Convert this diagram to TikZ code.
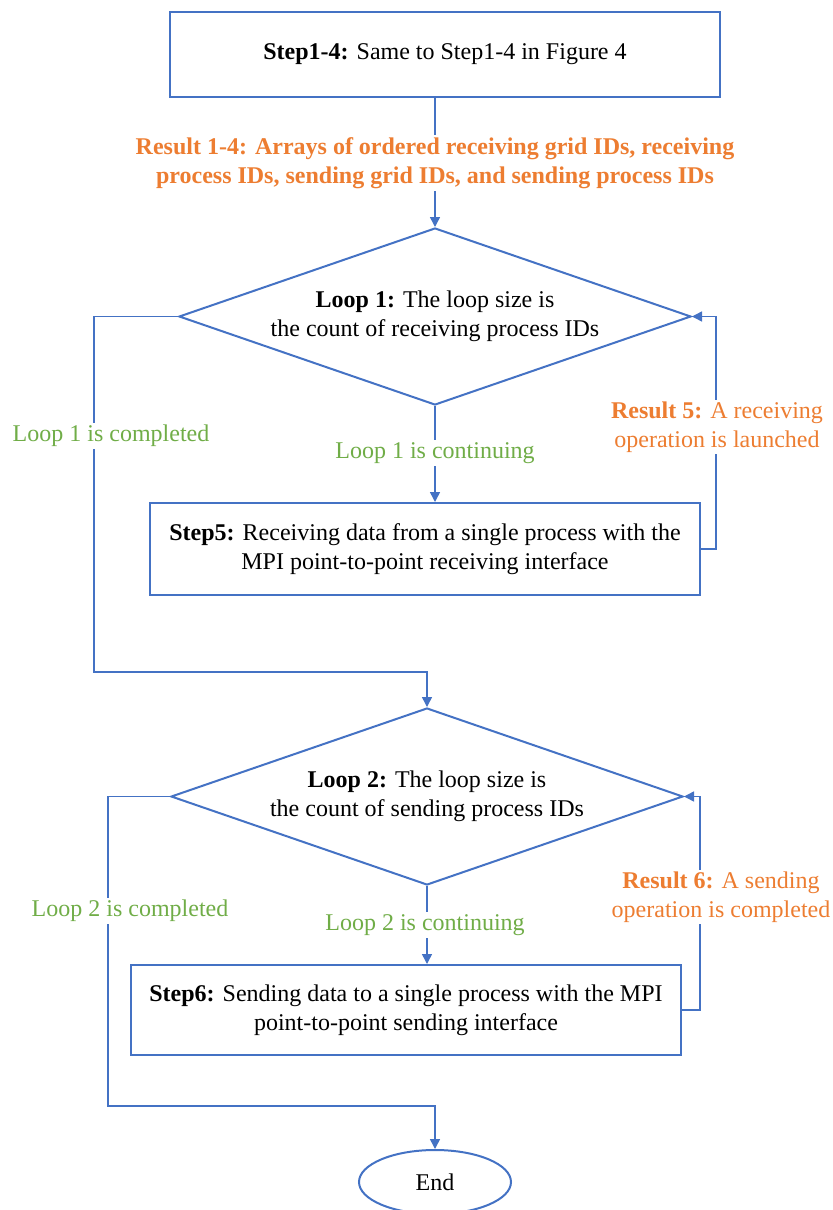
\documentclass[tikz,border=0pt]{standalone}
\usepackage{fontspec}
\setmainfont{Liberation Serif}
\usetikzlibrary{shapes.geometric,arrows.meta}

\definecolor{flowblue}{HTML}{4472C4}
\definecolor{resorange}{HTML}{ED7D31}
\definecolor{loopgreen}{HTML}{70AD47}

\tikzset{
	txt/.style={font=\fontsize{12}{14.5}\selectfont, align=center},
	stepbox/.style={txt, draw=flowblue, line width=1pt, minimum width=275pt, inner sep=0pt},
	loopdiamond/.style={txt, draw=flowblue, line width=1pt, diamond, aspect=2.89, minimum width=256pt, minimum height=88.5pt, inner sep=0pt},
	endoval/.style={txt, draw=flowblue, line width=1pt, ellipse, minimum width=76pt, minimum height=32pt, inner sep=0pt},
	flow/.style={draw=flowblue, line width=0.75pt},
	flowarrow/.style={flow, -{Triangle[length=5pt,width=5pt]}},
	greenlabel/.style={txt, text=loopgreen, fill=white, inner sep=1pt},
	orangelabel/.style={txt, text=resorange, fill=white, inner sep=1pt},
}

\begin{document}
\begin{tikzpicture}[x=0.5pt, y=-0.5pt]
	\useasboundingbox (0,0) rectangle (832,1210);

	% boxes and decisions
	\node[stepbox, minimum height=42.5pt] (stepA) at (445,54.5) {\textbf{Step1-4:} Same to Step1-4 in Figure 4};
	\node[loopdiamond] (loopA) at (435,316.5) {\textbf{Loop 1:} The loop size is\\the count of receiving process IDs};
	\node[stepbox, minimum height=46pt] (stepE) at (425,549) {\textbf{Step5:} Receiving data from a single process with the\\MPI point-to-point receiving interface};
	\node[loopdiamond] (loopB) at (427,796.5) {\textbf{Loop 2:} The loop size is\\the count of sending process IDs};
	\node[stepbox, minimum height=45pt] (stepF) at (406,1010) {\textbf{Step6:} Sending data to a single process with the MPI\\point-to-point sending interface};
	\node[endoval] (finish) at (435,1182) {End};

	% bends
	\coordinate (backA) at (716,316.5);
	\coordinate (exitA) at (94,672);
	\coordinate (backB) at (700,796.5);
	\coordinate (exitB) at (108,1106);

	% connectors
	\draw[flowarrow] (loopA.north |- stepA.south) -- (loopA.north);
	\draw[flowarrow] (loopA.south) -- (loopA.south |- stepE.north);
	\draw[flowarrow] (stepE.east) -| (backA) -- (loopA.east);
	\draw[flowarrow] (loopA.west) -| (exitA) -| (loopB.north);
	\draw[flowarrow] (loopB.south) -- (loopB.south |- stepF.north);
	\draw[flowarrow] (stepF.east) -| (backB) -- (loopB.east);
	\draw[flowarrow] (loopB.west) -| (exitB) -| (finish.north);

	% labels
	\node[orangelabel, font=\fontsize{12}{14.5}\selectfont\bfseries] (resA) at (435,163) {Result 1-4: Arrays of ordered receiving grid IDs, receiving\\process IDs, sending grid IDs, and sending process IDs};
	\node[greenlabel] (contA) at (435,453) {Loop 1 is continuing};
	\node[greenlabel] (doneA) at (111,436) {Loop 1 is completed};
	\node[orangelabel] (resE) at (717,427) {\textbf{Result 5:} A receiving\\operation is launched};
	\node[greenlabel] (contB) at (425,925) {Loop 2 is continuing};
	\node[greenlabel] (doneB) at (130,911) {Loop 2 is completed};
	\node[orangelabel] (resF) at (721,897) {\textbf{Result 6:} A sending\\operation is completed};

\end{tikzpicture}
\end{document}
